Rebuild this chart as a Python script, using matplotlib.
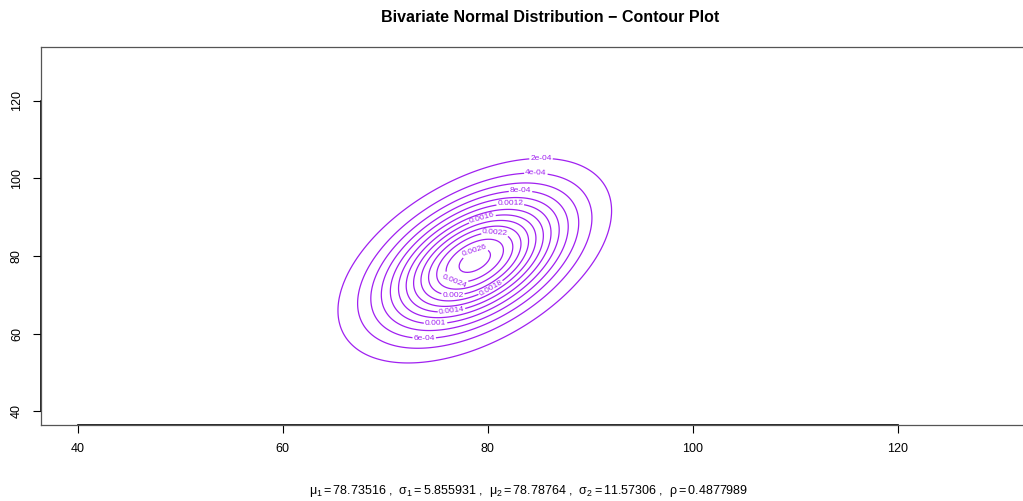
import numpy as np
import matplotlib
matplotlib.use("Agg")
from matplotlib import pyplot as plt

plt.rcParams['font.family'] = ['Liberation Sans', 'DejaVu Sans']
plt.rcParams['mathtext.fontset'] = 'custom'
plt.rcParams['mathtext.rm'] = 'Liberation Sans'
plt.rcParams['mathtext.it'] = 'Liberation Sans'

# parameters of the distribution (from the subtitle)
mu1 = 78.73516
sigma1 = 5.855931
mu2 = 78.78764
sigma2 = 11.57306
rho = 0.4877989

levels = [0.0002, 0.0004, 0.0006, 0.0008, 0.0010, 0.0012, 0.0014,
          0.0016, 0.0018, 0.0020, 0.0022, 0.0024, 0.0026]
level_text = ['2e-04', '4e-04', '6e-04', '8e-04', '0.001', '0.0012', '0.0014',
              '0.0016', '0.0018', '0.002', '0.0022', '0.0024', '0.0026']
# where R put each level's label (data coords)
label_pos = [(85.2, 105.3), (84.7, 101.2), (73.8, 59.1), (83.2, 96.5),
             (74.9, 63.0), (82.2, 93.2), (76.4, 67.1), (79.5, 89.3),
             (80.3, 71.7), (76.6, 70.5), (80.7, 85.2), (76.9, 74.8),
             (78.9, 80.0)]

xs = np.linspace(40, 130.3, 400)
ys = np.linspace(40, 130.3, 400)
X, Y = np.meshgrid(xs, ys)
zx = (X - mu1) / sigma1
zy = (Y - mu2) / sigma2
q = (zx**2 - 2 * rho * zx * zy + zy**2) / (1 - rho**2)
Z = np.exp(-q / 2) / (2 * np.pi * sigma1 * sigma2 * np.sqrt(1 - rho**2))

fig = plt.figure(figsize=(10.23, 5.01), dpi=100)
ax = fig.add_axes([41 / 1023, 76 / 501, 999 / 1023, 378 / 501])

purple = '#A020F0'
for lev, txt, pos in zip(levels, level_text, label_pos):
    cs = ax.contour(X, Y, Z, levels=[lev], colors=purple, linewidths=0.9)
    ax.clabel(cs, fmt={lev: txt}, manual=[pos],
              fontsize=6, inline=True, inline_spacing=2)

ax.set_xlim(36.4, 133.9)
ax.set_ylim(36.4, 133.9)
ax.set_xticks([40, 60, 80, 100, 120])
ax.set_yticks([40, 60, 80, 100, 120])
ax.tick_params(labelsize=9, length=6, width=0.8, color='black', pad=7)
for lab in ax.get_yticklabels():
    lab.set_rotation(90)
    lab.set_va('center')
for side in ['left', 'bottom', 'top', 'right']:
    ax.spines[side].set_color('#555555')
    ax.spines[side].set_linewidth(0.9)
# R axis lines from first to last tick
ax.plot([40, 120], [36.4, 36.4], color='black', lw=1.2, clip_on=False)
ax.plot([36.4, 36.4], [40, 120], color='black', lw=1.2, clip_on=False)

fig.text(550 / 1023, 1 - 17 / 501, 'Bivariate Normal Distribution \u2212 Contour Plot',
         ha='center', va='center', fontsize=11.5, fontweight='bold')
sub = (r'$\mu_1 = 78.73516$ ,  $\sigma_1 = 5.855931$ ,  $\mu_2 = 78.78764$ ,  '
       r'$\sigma_2 = 11.57306$ ,  $\rho = 0.4877989$')
fig.text(529 / 1023, 1 - 491 / 501, sub, ha='center', va='center', fontsize=9)

fig.savefig('out.png', dpi=100)
